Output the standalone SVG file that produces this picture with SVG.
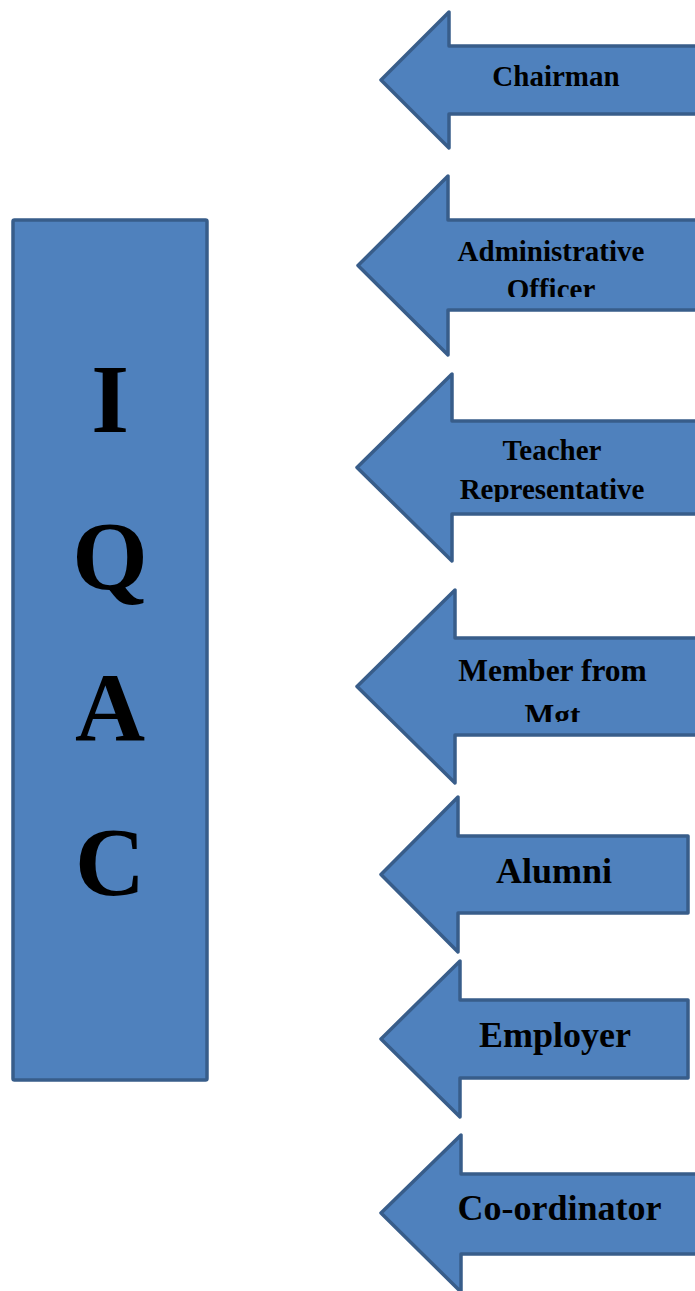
<svg xmlns="http://www.w3.org/2000/svg" width="695" height="1291" viewBox="0 0 695 1291">
<style>
.shape{fill:#4F81BD;stroke:#385D8A;stroke-width:3.5;stroke-linejoin:round}
.lbl{font-family:"Liberation Serif","Times New Roman",serif;font-weight:bold;fill:#000;text-anchor:middle}
.big{font-family:"Liberation Serif","Times New Roman",serif;font-weight:bold;fill:#000;text-anchor:middle;font-size:97px}
</style>
<defs>
<clipPath id="c2"><rect x="360" y="220" width="335" height="77"/></clipPath>
<clipPath id="c3"><rect x="360" y="421" width="335" height="81"/></clipPath>
<clipPath id="c4"><rect x="360" y="638" width="335" height="84"/></clipPath>
</defs>
<rect width="695" height="1291" fill="#fff"/>
<g id="iqac">
<rect class="shape" x="13" y="220" width="194" height="860" rx="1.5"/>
<text class="big" x="110" y="432">I</text>
<text class="big" x="110" y="589">Q</text>
<text class="big" x="110" y="740">A</text>
<text class="big" x="110" y="895">C</text>
</g>
<g id="connectors"></g>
<g id="chairman">
<path class="shape" d="M381,80 L449,12 L449,46 L720,46 L720,114 L449,114 L449,148 Z"/>
<text class="lbl" x="556" y="86" font-size="29">Chairman</text>
</g>
<g id="admin">
<path class="shape" d="M358,265.5 L448,176 L448,220 L720,220 L720,310 L448,310 L448,355 Z"/>
<g clip-path="url(#c2)">
<text class="lbl" x="551" y="261" font-size="29">Administrative</text>
<text class="lbl" x="551" y="299" font-size="29">Officer</text>
</g>
</g>
<g id="teacher">
<path class="shape" d="M357,467.5 L452,374 L452,421 L720,421 L720,514 L452,514 L452,561 Z"/>
<g clip-path="url(#c3)">
<text class="lbl" x="552" y="460" font-size="29">Teacher</text>
<text class="lbl" x="552" y="499" font-size="29">Representative</text>
</g>
</g>
<g id="mgt">
<path class="shape" d="M357,686.5 L455,590 L455,638 L720,638 L720,735 L455,735 L455,783 Z"/>
<g clip-path="url(#c4)">
<text class="lbl" x="552.5" y="681" font-size="31.5">Member from</text>
<text class="lbl" x="552.5" y="726" font-size="31.5">Mgt</text>
</g>
</g>
<g id="alumni">
<path class="shape" d="M381,874.5 L458,797 L458,836 L688,836 L688,913 L458,913 L458,952 Z"/>
<text class="lbl" x="554" y="883" font-size="36">Alumni</text>
</g>
<g id="employer">
<path class="shape" d="M381,1039 L460,961 L460,1000 L688,1000 L688,1078 L460,1078 L460,1117 Z"/>
<text class="lbl" x="555" y="1047" font-size="36">Employer</text>
</g>
<g id="coordinator">
<path class="shape" d="M381,1213 L461,1135 L461,1174 L720,1174 L720,1254 L461,1254 L461,1292 Z"/>
<text class="lbl" x="559.5" y="1220" font-size="36">Co-ordinator</text>
</g>
</svg>
